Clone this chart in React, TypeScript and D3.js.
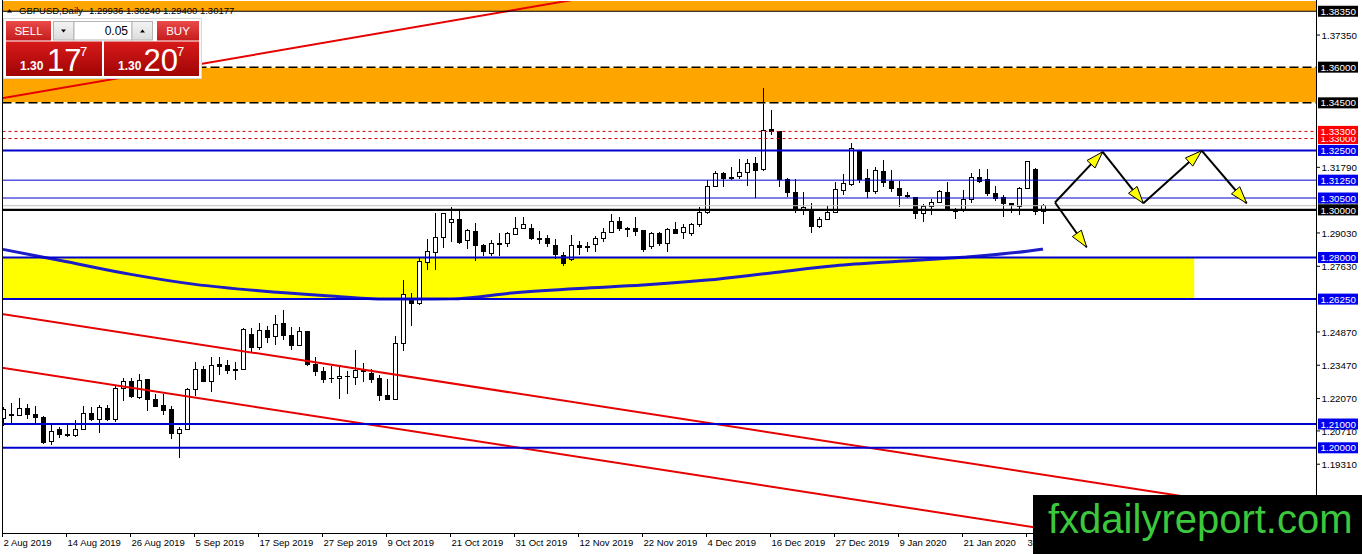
import React from "react";
import * as d3 from "d3";

const W = 1362;
const H = 554;

// ---- OHLC daily candles, 2 Aug 2019 .. 4 Feb 2020 (131 bars) ----
const opens = [
  1.2125, 1.2138, 1.2136, 1.2167, 1.2142, 1.2129, 1.2027, 1.2076, 1.2057, 1.2052,
  1.2079, 1.2146, 1.2121, 1.2167, 1.2121, 1.2251, 1.2279, 1.2212, 1.2286, 1.2205,
  1.2177, 1.216, 1.2062, 1.2076, 1.2247, 1.2328, 1.2279, 1.2349, 1.2345, 1.2326,
  1.2328, 1.2475, 1.2423, 1.2493, 1.2468, 1.2521, 1.2471, 1.2429, 1.2489, 1.2349,
  1.2321, 1.229, 1.2293, 1.2301, 1.2297, 1.2323, 1.2311, 1.2293, 1.2219, 1.2205,
  1.2437, 1.2625, 1.2605, 1.2779, 1.2821, 1.2885, 1.2948, 1.2958, 1.2871, 1.2911,
  1.2852, 1.2818, 1.2857, 1.286, 1.2898, 1.2923, 1.2923, 1.288, 1.2881, 1.2852,
  1.281, 1.2793, 1.2852, 1.2846, 1.2853, 1.2881, 1.2905, 1.2951, 1.2923, 1.2923,
  1.2912, 1.2846, 1.2899, 1.286, 1.2919, 1.2905, 1.2902, 1.2937, 1.2989, 1.3098,
  1.3154, 1.3137, 1.314, 1.3158, 1.3193, 1.3168, 1.3336, 1.3329, 1.3126, 1.3073,
  1.3002, 1.3, 1.293, 1.2961, 1.2989, 1.3081, 1.3105, 1.3245, 1.3133, 1.3077,
  1.3161, 1.3119, 1.3091, 1.3059, 1.3053, 1.2986, 1.3014, 1.3031, 1.3074, 1.2992,
  1.3, 1.3045, 1.3137, 1.3126, 1.307, 1.3053, 1.3025, 1.3014, 1.3091, 1.3171,
  1.29936,
];
const highs = [
  1.2171, 1.2188, 1.2209, 1.2185, 1.2177, 1.2132, 1.2104, 1.2087, 1.2097, 1.2118,
  1.2177, 1.2171, 1.2181, 1.2181, 1.2265, 1.2293, 1.2293, 1.2311, 1.2289, 1.2227,
  1.2227, 1.2177, 1.2087, 1.2251, 1.2359, 1.2345, 1.2383, 1.2381, 1.2367, 1.2359,
  1.2503, 1.2503, 1.2524, 1.251, 1.2559, 1.258, 1.2507, 1.2507, 1.2493, 1.2381,
  1.2339, 1.2345, 1.2345, 1.2321, 1.2409, 1.2356, 1.2331, 1.2307, 1.2289, 1.2471,
  1.2706, 1.265, 1.2797, 1.2877, 1.2989, 1.2989, 1.3014, 1.2997, 1.2919, 1.2947,
  1.2857, 1.2874, 1.2905, 1.2909, 1.2972, 1.2972, 1.2941, 1.2913, 1.2895, 1.2877,
  1.2825, 1.2895, 1.2871, 1.2867, 1.2891, 1.2923, 1.2983, 1.2972, 1.2927, 1.2969,
  1.2912, 1.2909, 1.2909, 1.2923, 1.2951, 1.2941, 1.2947, 1.3011, 1.3126, 1.3165,
  1.3161, 1.3179, 1.3213, 1.3213, 1.3224, 1.3511, 1.342, 1.3333, 1.3133, 1.3129,
  1.3077, 1.3031, 1.2972, 1.3017, 1.3119, 1.3151, 1.328, 1.3247, 1.3171, 1.3179,
  1.321, 1.3168, 1.3123, 1.3077, 1.3053, 1.3025, 1.3045, 1.3084, 1.3119, 1.3007,
  1.3084, 1.3154, 1.3171, 1.3171, 1.3101, 1.3063, 1.3027, 1.3095, 1.3207, 1.3175,
  1.3024,
];
const lows = [
  1.2093, 1.2104, 1.2134, 1.2121, 1.2096, 1.2017, 1.2013, 1.2041, 1.2045, 1.2045,
  1.2076, 1.2111, 1.2062, 1.2111, 1.2107, 1.2195, 1.2209, 1.2205, 1.2153, 1.2171,
  1.2139, 1.2037, 1.1957, 1.2073, 1.2219, 1.2275, 1.2236, 1.2307, 1.2311, 1.2283,
  1.2325, 1.2398, 1.2412, 1.244, 1.2433, 1.2454, 1.2409, 1.2426, 1.2345, 1.23,
  1.2272, 1.2272, 1.2205, 1.2227, 1.2265, 1.2275, 1.2272, 1.2195, 1.2199, 1.2202,
  1.2405, 1.2513, 1.2601, 1.2748, 1.2748, 1.2839, 1.2867, 1.2857, 1.2835, 1.2787,
  1.2807, 1.2807, 1.2807, 1.2843, 1.2897, 1.2921, 1.2874, 1.2857, 1.2843, 1.2793,
  1.2765, 1.2787, 1.2811, 1.2821, 1.2821, 1.2867, 1.2905, 1.2913, 1.2885, 1.2891,
  1.2825, 1.2835, 1.2849, 1.2825, 1.2899, 1.2877, 1.2891, 1.2927, 1.2983, 1.3095,
  1.3098, 1.3126, 1.3131, 1.3101, 1.3049, 1.3165, 1.3315, 1.3098, 1.3056, 1.2989,
  1.2979, 1.2902, 1.2923, 1.2958, 1.2986, 1.3063, 1.3101, 1.3112, 1.305, 1.3065,
  1.3095, 1.3077, 1.3011, 1.3049, 1.2961, 1.2951, 1.2979, 1.3028, 1.2997, 1.2961,
  1.2993, 1.3031, 1.3112, 1.3059, 1.3039, 1.2972, 1.2986, 1.2979, 1.3087, 1.2979,
  1.294,
];
const closes = [
  1.2163, 1.2136, 1.2167, 1.2142, 1.2128, 1.2023, 1.2069, 1.2058, 1.2055, 1.2079,
  1.2146, 1.2121, 1.2171, 1.2118, 1.2251, 1.2279, 1.2216, 1.2283, 1.2205, 1.2174,
  1.2157, 1.2059, 1.2079, 1.2247, 1.2328, 1.2279, 1.2345, 1.2342, 1.2325, 1.2328,
  1.2499, 1.2423, 1.2493, 1.2465, 1.2517, 1.2471, 1.2429, 1.2489, 1.2349, 1.2321,
  1.2289, 1.2293, 1.23, 1.2299, 1.2325, 1.2321, 1.2286, 1.2219, 1.2202, 1.244,
  1.2643, 1.2605, 1.2783, 1.2825, 1.2885, 1.2983, 1.2958, 1.2863, 1.2913, 1.2852,
  1.2825, 1.2857, 1.286, 1.2899, 1.2923, 1.2937, 1.288, 1.2881, 1.2857, 1.2811,
  1.2773, 1.2849, 1.2843, 1.2843, 1.2881, 1.2905, 1.2951, 1.2923, 1.2921, 1.2908,
  1.2832, 1.2899, 1.286, 1.2919, 1.2902, 1.2927, 1.2937, 1.2989, 1.3098, 1.3154,
  1.3131, 1.3131, 1.3158, 1.3193, 1.3165, 1.3333, 1.3329, 1.3126, 1.3073, 1.3,
  1.3008, 1.293, 1.2958, 1.2989, 1.3084, 1.3109, 1.3259, 1.3129, 1.3077, 1.3165,
  1.3115, 1.3091, 1.3059, 1.3061, 1.2986, 1.3014, 1.3031, 1.3076, 1.3, 1.3,
  1.3045, 1.3137, 1.3119, 1.3067, 1.3049, 1.3025, 1.3017, 1.3091, 1.3202, 1.2993,
  1.30177,
];

// ---- date axis labels (one every 8 bars) ----
const dateLabels = [
  "2 Aug 2019", "14 Aug 2019", "26 Aug 2019", "5 Sep 2019", "17 Sep 2019",
  "27 Sep 2019", "9 Oct 2019", "21 Oct 2019", "31 Oct 2019", "12 Nov 2019",
  "22 Nov 2019", "4 Dec 2019", "16 Dec 2019", "27 Dec 2019", "9 Jan 2020",
  "21 Jan 2020", "31 Jan 2020",
];

// ---- price scale ticks (plain labels) ----
const tickPrices = [1.3735, 1.3179, 1.2903, 1.2763, 1.2487, 1.2347, 1.2207, 1.2071, 1.1931, 1.1791];

// ---- horizontal levels ----
const blackLevels = [1.3835, 1.36, 1.345, 1.3];
const redLevels = [1.33, 1.333];
const blueLevels = [1.325, 1.3125, 1.305, 1.28, 1.2625, 1.21, 1.2];
const bidPrice = 1.30177;

// ---- zones ----
const orangeZoneLow = [1.3835, 1.345];
const orangeZoneHigh = [1.395, 1.36];
const yellowZone = [1.2625, 1.28];
const yellowZoneEndBar = 148.9;

// ---- moving average (sampled every 8 bars) ----
const maBars = [0, 8, 16, 24, 32, 40, 48, 56, 64, 72, 80, 88, 96, 104, 112, 120, 128, 130];
const maValues = [
  1.2834, 1.2782, 1.2729, 1.2687, 1.266, 1.264, 1.2625, 1.2626, 1.2652,
  1.267, 1.2684, 1.2705, 1.2735, 1.2765, 1.2784, 1.2801, 1.2826, 1.2835,
];

// ---- red trend lines: [bar1, price1, bar2, price2] ----
const trendBarsA = [0, 0, 0];
const trendPricesA = [1.347, 1.2562, 1.2336];
const trendBarsB = [68, 146, 146];
const trendPricesB = [1.3864, 1.1804, 1.1577];

// ---- projected path arrows ----
const arrowBars = [131.5, 137.46, 142.54, 149.84, 155.46, 135.46];
const arrowPrices = [1.3031, 1.3244, 1.3028, 1.3249, 1.3028, 1.2843];
const arrowSegments = [[0, 1], [1, 2], [2, 3], [3, 4], [0, 5]];

const FONT = "'Liberation Sans', Arial, sans-serif";

export default function App() {
  const x = d3.scaleLinear().domain([0, 130]).range([3, 1043]);
  const y = d3.scaleLinear().domain([1.2, 1.3]).range([447.8, 209.9]);
  const plotL = 2.5;
  const plotR = 1316;
  const plotB = 533;

  const maLine = d3
    .line<number>()
    .x((_, i) => x(maBars[i]))
    .y((d) => y(d))
    .curve(d3.curveMonotoneX)(maValues) as string;

  const lineExt = (i: number) => {
    const b1 = trendBarsA[i], p1 = trendPricesA[i], b2 = trendBarsB[i], p2 = trendPricesB[i];
    const slope = (p2 - p1) / (b2 - b1);
    const s = -2, e = 170;
    return { x1: x(s), y1: y(p1 + slope * (s - b1)), x2: x(e), y2: y(p1 + slope * (e - b1)) };
  };

  const arrowHead = (x1: number, y1: number, x2: number, y2: number) => {
    const a = Math.atan2(y2 - y1, x2 - x1);
    const L = 17, hw = 5.5;
    const bx = x2 - L * Math.cos(a), by = y2 - L * Math.sin(a);
    return `${x2},${y2} ${bx + hw * Math.sin(a)},${by - hw * Math.cos(a)} ${bx - hw * Math.sin(a)},${by + hw * Math.cos(a)}`;
  };

  const boxLabels: { p: number; bg: string }[] = [
    { p: 1.3835, bg: "#000" },
    { p: 1.36, bg: "#000" },
    { p: 1.345, bg: "#000" },
    { p: 1.33, bg: "#f00" },
    { p: 1.333, bg: "#f00" },
    { p: 1.325, bg: "#0000ee" },
    { p: 1.3125, bg: "#0000ee" },
    { p: bidPrice, bg: "#a0a0a0" },
    { p: 1.305, bg: "#0000ee" },
    { p: 1.3, bg: "#000" },
    { p: 1.28, bg: "#0000ee" },
    { p: 1.2625, bg: "#0000ee" },
    { p: 1.21, bg: "#0000ee" },
    { p: 1.2, bg: "#0000ee" },
  ];

  return (
    <svg
      width={W}
      height={H}
      style={{ position: "absolute", left: 0, top: 0, background: "#fff" }}
      fontFamily={FONT}
    >
      <defs>
        <clipPath id="plotClip">
          <rect x={plotL} y={1} width={plotR - plotL} height={plotB - 1} />
        </clipPath>
        <linearGradient id="btnGrad" x1="0" y1="0" x2="0" y2="1">
          <stop offset="0" stopColor="#ea4a48" />
          <stop offset="1" stopColor="#c41c1c" />
        </linearGradient>
        <linearGradient id="priceGrad" x1="0" y1="0" x2="0" y2="1">
          <stop offset="0" stopColor="#d81a1a" />
          <stop offset="1" stopColor="#a00404" />
        </linearGradient>
        <linearGradient id="greyGrad" x1="0" y1="0" x2="0" y2="1">
          <stop offset="0" stopColor="#f4f4f4" />
          <stop offset="1" stopColor="#dcdcdc" />
        </linearGradient>
      </defs>
      <rect width={W} height={H} fill="#fff" />

      <g clipPath="url(#plotClip)">
        {/* zones */}
        {orangeZoneLow.map((lo, i) => (
          <rect
            key={"oz" + i}
            x={plotL}
            y={y(orangeZoneHigh[i])}
            width={plotR - plotL}
            height={y(lo) - y(orangeZoneHigh[i])}
            fill="#ffa500"
          />
        ))}
        <rect
          x={plotL}
          y={y(yellowZone[1])}
          width={x(yellowZoneEndBar) - plotL}
          height={y(yellowZone[0]) - y(yellowZone[1])}
          fill="#ffff00"
        />

        {/* candles */}
        <g shapeRendering="crispEdges">
          {opens.map((o, i) => {
            const c = closes[i];
            const cx = Math.round(x(i)) + 0.5;
            const top = y(Math.max(o, c));
            const bot = y(Math.min(o, c));
            const bull = c >= o;
            return (
              <g key={"c" + i}>
                <line x1={cx} x2={cx} y1={y(highs[i])} y2={y(lows[i])} stroke="#000" strokeWidth={1} />
                <rect
                  x={cx - 2}
                  y={top}
                  width={4}
                  height={Math.max(bot - top, 0.8)}
                  fill={bull ? "#fff" : "#000"}
                  stroke="#000"
                  strokeWidth={1}
                />
              </g>
            );
          })}
        </g>

        {/* moving average */}
        <path d={maLine} fill="none" stroke="#1c1cc8" strokeWidth={3} />

        {/* red trend lines */}
        {trendBarsA.map((_, i) => {
          const l = lineExt(i);
          return <line key={"tl" + i} {...l} stroke="#e60000" strokeWidth={2} />;
        })}

        {/* horizontal levels */}
        <line x1={plotL} x2={plotR} y1={y(bidPrice)} y2={y(bidPrice)} stroke="#c0c0c0" strokeWidth={1} />
        {blueLevels.map((p) => (
          <line
            key={"bl" + p}
            x1={plotL}
            x2={plotR}
            y1={y(p)}
            y2={y(p)}
            stroke="#0000cd"
            strokeWidth={p === 1.3125 || p === 1.305 ? 1 : 2}
          />
        ))}
        {redLevels.map((p) => (
          <line
            key={"rl" + p}
            x1={plotL}
            x2={plotR}
            y1={y(p)}
            y2={y(p)}
            stroke="#d00000"
            strokeWidth={1}
            strokeDasharray="3 3"
          />
        ))}
        {blackLevels.map((p) =>
          p === 1.36 || p === 1.345 ? (
            <g key={"kl" + p}>
              <line x1={plotL} x2={plotR} y1={y(p)} y2={y(p)} stroke="#fff3c4" strokeWidth={1.5} />
              <line
                x1={plotL}
                x2={plotR}
                y1={y(p)}
                y2={y(p)}
                stroke="#000"
                strokeWidth={1.5}
                strokeDasharray="9 4"
              />
            </g>
          ) : (
            <line
              key={"kl" + p}
              x1={plotL}
              x2={plotR}
              y1={y(p)}
              y2={y(p)}
              stroke="#000"
              strokeWidth={p === 1.3 ? 2.2 : 1.2}
            />
          )
        )}

        {/* projected path */}
        {arrowSegments.map(([a, b], i) => {
          const x1 = x(arrowBars[a]), y1 = y(arrowPrices[a]);
          const x2 = x(arrowBars[b]), y2 = y(arrowPrices[b]);
          return (
            <g key={"ar" + i}>
              <line x1={x1} y1={y1} x2={x2} y2={y2} stroke="#000" strokeWidth={2} />
              <polygon points={arrowHead(x1, y1, x2, y2)} fill="#ffff00" stroke="#000" strokeWidth={1} />
            </g>
          );
        })}
      </g>

      {/* frame */}
      <g shapeRendering="crispEdges">
        <line x1={plotL} x2={plotL} y1={0} y2={plotB} stroke="#000" />
        <line x1={plotR} x2={plotR} y1={0} y2={plotB} stroke="#000" />
        <line x1={plotL} x2={plotR} y1={plotB} y2={plotB} stroke="#000" />
      </g>

      {/* price ticks */}
      {tickPrices.map((p) => (
        <g key={"tk" + p}>
          <line x1={plotR} x2={plotR + 4} y1={y(p)} y2={y(p)} stroke="#000" />
          <text x={1321.5} y={y(p) + 3.6} fontSize={9.8} fill="#000">
            {p.toFixed(5)}
          </text>
        </g>
      ))}

      {/* level labels */}
      {boxLabels.map((b) => (
        <g key={"bx" + b.p}>
          <rect x={1318} y={y(b.p) - 5.5} width={40} height={11} fill={b.bg} />
          <text x={1320.5} y={y(b.p) + 3.6} fontSize={9.8} fill="#fff">
            {b.p.toFixed(5)}
          </text>
        </g>
      ))}

      {/* dates */}
      {dateLabels.map((d, i) => {
        const tx = Math.round(x(i * 8)) - 0.5;
        return (
          <g key={"d" + i}>
            <line x1={tx} x2={tx} y1={plotB} y2={plotB + 4} stroke="#000" shapeRendering="crispEdges" />
            <text x={tx + 1} y={545.5} fontSize={9.5} fill="#000">
              {d}
            </text>
          </g>
        );
      })}

      {/* header */}
      <polygon points="7,12.5 12,12.5 9.5,9" fill="#000" />
      <text x={19} y={13.5} fontSize={9.5} fill="#000">
        GBPUSD,Daily
      </text>
      <text x={89} y={13.5} fontSize={9.5} fill="#000">
        1.29936 1.30240 1.29400 1.30177
      </text>

      {/* one-click trading panel */}
      <g>
        <rect x={3.5} y={18.5} width={198} height={60} fill="#fff" stroke="#d8d8d8" />
        <rect x={6} y={21} width={45} height={19.5} fill="url(#btnGrad)" />
        <text x={28.5} y={35} fontSize={11.5} fill="#fff" textAnchor="middle">
          SELL
        </text>
        <rect x={53.5} y={21.5} width={20.5} height={18.5} fill="url(#greyGrad)" stroke="#b4b4b4" />
        <polygon points="61,29.5 66,29.5 63.5,32.5" fill="#000" />
        <rect x={74} y={21.5} width={58} height={18.5} fill="#fff" stroke="#b4b4b4" />
        <text x={128} y={35} fontSize={12} fill="#000" textAnchor="end">
          0.05
        </text>
        <rect x={132} y={21.5} width={20.5} height={18.5} fill="url(#greyGrad)" stroke="#b4b4b4" />
        <polygon points="140,32.5 145,32.5 142.5,29.5" fill="#000" />
        <rect x={157} y={21} width={42} height={19.5} fill="url(#btnGrad)" />
        <text x={178} y={35} fontSize={11.5} fill="#fff" textAnchor="middle">
          BUY
        </text>
        <rect x={6} y={41.5} width={96} height={34.5} fill="url(#priceGrad)" />
        <rect x={104} y={41.5} width={95} height={34.5} fill="url(#priceGrad)" />
        <text x={20} y={70} fontSize={12} fontWeight="bold" fill="#fff">
          1.30
        </text>
        <text x={47} y={71} fontSize={31} fill="#fff">
          17
        </text>
        <text x={80} y={56} fontSize={13} fill="#fff">
          7
        </text>
        <text x={118} y={70} fontSize={12} fontWeight="bold" fill="#fff">
          1.30
        </text>
        <text x={143.5} y={71} fontSize={31} fill="#fff">
          20
        </text>
        <text x={177} y={56} fontSize={13} fill="#fff">
          7
        </text>
      </g>

      {/* watermark */}
      <rect x={1033} y={495} width={W - 1033} height={H - 495} fill="#000" />
      <text x={1048} y={533} fontSize={40} fill="#3cc83c">
        fxdailyreport.com
      </text>
    </svg>
  );
}
